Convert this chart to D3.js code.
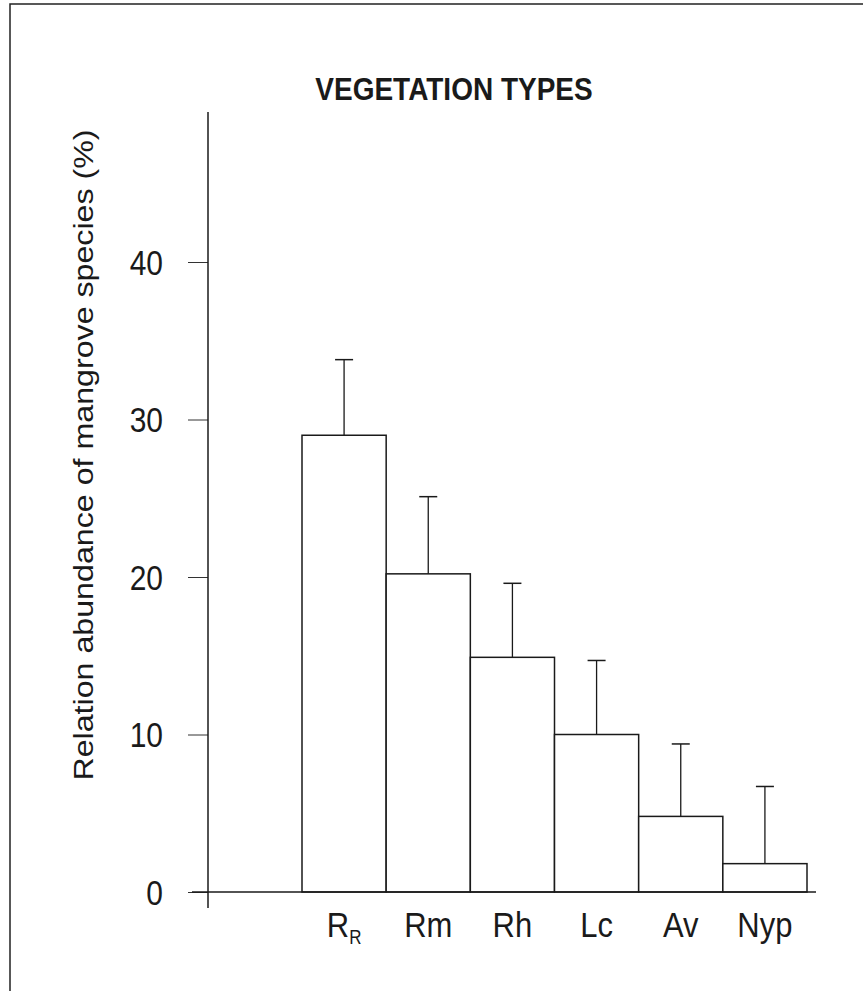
<!DOCTYPE html>
<html>
<head>
<meta charset="utf-8">
<script src="https://cdn.jsdelivr.net/npm/d3@7"></script>
<style>
  body { margin: 0; background: #fff; }
  svg { display: block; }
  text { font-family: "Liberation Sans", Arial, Helvetica, sans-serif; fill: #1a1a1a; }
</style>
</head>
<body>
<div id="chart"></div>
<script>
const WIDTH = 863;
const HEIGHT = 991;

// data
const categories = ["RR", "Rm", "Rh", "Lc", "Av", "Nyp"];
const means = [29.0, 20.2, 14.9, 10.0, 4.8, 1.8];
const errors = [4.8, 4.9, 4.7, 4.7, 4.6, 4.9];
const yTicks = [0, 10, 20, 30, 40];

const TITLE = "VEGETATION TYPES";
const Y_LABEL = "Relation abundance of mangrove species (%)";

// layout
const X0 = 208;          // y axis position
const Y_AXIS_TOP = 112;
const Y_AXIS_BOTTOM = 908;
const X_AXIS_LEFT = 192;
const X_AXIS_RIGHT = 816;
const STRETCH = 1.15;    // the scan is a bit taller than wide

const data = categories.map((c, i) => ({ name: c, mean: means[i], err: errors[i] }));

const svg = d3.select("#chart")
  .append("svg")
  .attr("width", WIDTH)
  .attr("height", HEIGHT);

// frame (only left and top edges survive in the scan)
svg.append("path")
   .attr("d", "M10," + HEIGHT + "V4H" + WIDTH)
   .attr("fill", "none")
   .attr("stroke", "#222")
   .attr("stroke-width", 1.5);

const xScale = d3.scaleBand()
  .domain(categories)
  .range([302, 807])
  .padding(0);

const yScale = d3.scaleLinear()
  .domain([0, 40])
  .range([892, 262]);

// title
svg.append("text")
   .attr("transform", "translate(454,100) scale(1,1.1)")
   .attr("text-anchor", "middle")
   .style("font-weight", "bold")
   .style("font-size", "28px")
   .text(TITLE);

// bars
svg.selectAll("rect.bar")
   .data(data)
   .enter()
   .append("rect")
   .attr("class", "bar")
   .attr("x", d => xScale(d.name))
   .attr("y", d => yScale(d.mean))
   .attr("width", xScale.bandwidth())
   .attr("height", d => yScale(0) - yScale(d.mean))
   .attr("fill", "#fff")
   .attr("stroke", "#1a1a1a")
   .attr("stroke-width", 1.5);

// error bars (upper only)
const err = svg.selectAll("g.err")
  .data(data)
  .enter()
  .append("g")
  .attr("class", "err")
  .attr("transform", d => "translate(" + (xScale(d.name) + xScale.bandwidth() / 2) + ",0)");

err.append("line")
   .attr("x1", 0).attr("x2", 0)
   .attr("y1", d => yScale(d.mean))
   .attr("y2", d => yScale(d.mean + d.err))
   .attr("stroke", "#1a1a1a")
   .attr("stroke-width", 1.3);

err.append("line")
   .attr("x1", -9).attr("x2", 9)
   .attr("y1", d => yScale(d.mean + d.err))
   .attr("y2", d => yScale(d.mean + d.err))
   .attr("stroke", "#1a1a1a")
   .attr("stroke-width", 1.5);

// y axis
const yAxis = d3.axisLeft(yScale).tickValues(yTicks).tickSize(20).tickSizeOuter(0);
const gy = svg.append("g")
  .attr("transform", "translate(" + X0 + ",0)")
  .call(yAxis);
gy.select(".domain").remove();
gy.selectAll(".tick line").attr("stroke", "#333").attr("stroke-width", 1);
gy.selectAll(".tick text")
  .attr("x", null)
  .attr("dy", null)
  .attr("transform", "translate(-45,12) scale(1," + STRETCH + ")")
  .style("font-size", "30px")
  .attr("fill", "#1a1a1a");
gy.attr("font-family", null).attr("font-size", null);

svg.append("line")
   .attr("x1", X0).attr("x2", X0)
   .attr("y1", Y_AXIS_TOP).attr("y2", Y_AXIS_BOTTOM)
   .attr("stroke", "#1a1a1a")
   .attr("stroke-width", 1.5);

// x axis
svg.append("line")
   .attr("x1", X_AXIS_LEFT).attr("x2", X_AXIS_RIGHT)
   .attr("y1", yScale(0)).attr("y2", yScale(0))
   .attr("stroke", "#1a1a1a")
   .attr("stroke-width", 1.5);

const xLabels = svg.selectAll("g.xlab")
  .data(categories)
  .enter()
  .append("g")
  .attr("class", "xlab")
  .attr("transform", d => "translate(" + (xScale(d) + xScale.bandwidth() / 2) + ",937) scale(1," + STRETCH + ")");

xLabels.append("text")
  .attr("text-anchor", "middle")
  .style("font-size", "31px")
  .each(function(d) {
    const t = d3.select(this);
    if (d === "RR") {
      t.append("tspan").text("R");
      t.append("tspan").attr("dy", 6).style("font-size", "17px").text("R");
    } else {
      t.text(d);
    }
  });

// y axis title
svg.append("text")
   .attr("transform", "translate(93,455) scale(1," + STRETCH + ") rotate(-90)")
   .attr("text-anchor", "middle")
   .style("font-size", "28px")
   .text(Y_LABEL);
</script>
</body>
</html>
